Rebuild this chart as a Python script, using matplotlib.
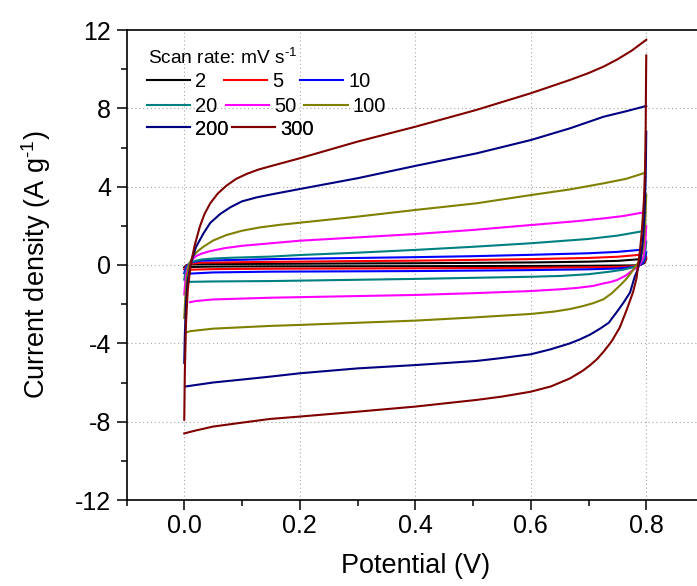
import numpy as np
import matplotlib
matplotlib.use("Agg")
import matplotlib.pyplot as plt
from matplotlib.ticker import MultipleLocator

plt.rcParams['font.family'] = ['Liberation Sans', 'DejaVu Sans']
plt.rcParams['mathtext.fontset'] = 'custom'
plt.rcParams['mathtext.rm'] = 'Liberation Sans'
plt.rcParams['mathtext.it'] = 'Liberation Sans:italic'
plt.rcParams['mathtext.default'] = 'regular'
plt.rcParams['axes.unicode_minus'] = False

# ---- cyclic voltammograms: forward (anodic) and reverse (cathodic) sweeps ----
scan_rates = [2, 5, 10, 20, 50, 100, 200, 300]          # mV/s
line_colors = ['#000000', '#ff0000', '#0000ff', '#008080',
               '#ff00ff', '#808000', '#000080', '#800000']

fwd_E_2 = [0.0, 0.003, 0.01, 0.05, 0.15, 0.3, 0.4, 0.5, 0.6, 0.7, 0.75, 0.786]
fwd_j_2 = [-0.12, -0.02, 0.03, 0.05, 0.06, 0.08, 0.09, 0.11, 0.13, 0.17, 0.21, 0.29]
rev_E_2 = [0.8, 0.797, 0.79, 0.78, 0.7, 0.6, 0.4, 0.15, 0.05, 0.01, 0.003]
rev_j_2 = [0.3, 0.1, 0.02, -0.02, -0.04, -0.05, -0.06, -0.07, -0.08, -0.1, -0.12]

fwd_E_5 = [0.0, 0.003, 0.01, 0.03, 0.15, 0.3, 0.4, 0.5, 0.6, 0.7, 0.75, 0.789]
fwd_j_5 = [-0.22, -0.05, 0.06, 0.12, 0.16, 0.2, 0.22, 0.26, 0.3, 0.36, 0.42, 0.52]
rev_E_5 = [0.8, 0.797, 0.79, 0.78, 0.75, 0.7, 0.6, 0.4, 0.15, 0.05, 0.01, 0.003]
rev_j_5 = [0.4, 0.15, 0.02, -0.06, -0.1, -0.12, -0.14, -0.17, -0.19, -0.21, -0.24, -0.26]

fwd_E_10 = [0.0, 0.003, 0.01, 0.03, 0.15, 0.3, 0.4, 0.5, 0.6, 0.7, 0.75, 0.792]
fwd_j_10 = [-0.42, -0.1, 0.12, 0.22, 0.3, 0.36, 0.4, 0.45, 0.52, 0.6, 0.67, 0.78]
rev_E_10 = [0.8, 0.798, 0.794, 0.788, 0.78, 0.75, 0.7, 0.6, 0.4, 0.15, 0.05, 0.01, 0.003]
rev_j_10 = [0.65, 0.3, 0.08, -0.02, -0.1, -0.18, -0.22, -0.26, -0.31, -0.34, -0.38, -0.44, -0.48]

fwd_E_20 = [0.0, 0.002, 0.005, 0.01, 0.02, 0.03, 0.05, 0.08, 0.15, 0.2, 0.3, 0.4, 0.5, 0.6, 0.7, 0.75, 0.789]
fwd_j_20 = [-0.75, -0.4, -0.1, 0.12, 0.22, 0.28, 0.33, 0.37, 0.43, 0.51, 0.63, 0.77, 0.93, 1.11, 1.33, 1.5, 1.70]
rev_E_20 = [0.8, 0.798, 0.795, 0.79, 0.785, 0.78, 0.77, 0.76, 0.737, 0.7, 0.651, 0.6, 0.4, 0.15, 0.05, 0.01]
rev_j_20 = [1.2, 0.6, 0.25, 0.06, -0.03, -0.09, -0.17, -0.24, -0.34, -0.47, -0.56, -0.6, -0.71, -0.82, -0.84, -0.86]

fwd_E_50 = [0.0, 0.002, 0.004, 0.008, 0.014, 0.02, 0.03, 0.045, 0.07, 0.1, 0.15, 0.2, 0.3, 0.4, 0.5,
            0.6, 0.68, 0.726, 0.76, 0.792]
fwd_j_50 = [-1.5, -0.8, -0.4, 0.0, 0.28, 0.45, 0.58, 0.71, 0.86, 0.98, 1.11, 1.24, 1.41, 1.58, 1.79,
            2.04, 2.24, 2.38, 2.5, 2.67]
rev_E_50 = [0.8, 0.798, 0.795, 0.79, 0.786, 0.78, 0.775, 0.766, 0.758, 0.749, 0.738, 0.726, 0.708,
            0.68, 0.651, 0.6, 0.5, 0.4, 0.15, 0.05, 0.02, 0.01]
rev_j_50 = [2.0, 1.0, 0.4, 0.08, -0.09, -0.2, -0.3, -0.51, -0.64, -0.77, -0.87, -0.94, -1.07,
            -1.17, -1.24, -1.33, -1.44, -1.53, -1.67, -1.76, -1.84, -1.9]

fwd_E_100 = [0.0, 0.002, 0.004, 0.008, 0.015, 0.024, 0.033, 0.05, 0.073, 0.1, 0.131, 0.165, 0.2, 0.3,
             0.4, 0.506, 0.6, 0.668, 0.726, 0.765, 0.795]
fwd_j_100 = [-2.7, -1.6, -0.8, 0.0, 0.45, 0.72, 0.93, 1.25, 1.53, 1.75, 1.92, 2.05, 2.16, 2.47,
             2.81, 3.15, 3.57, 3.86, 4.17, 4.4, 4.68]
rev_E_100 = [0.8, 0.798, 0.795, 0.79, 0.783, 0.773, 0.764, 0.754, 0.74, 0.726, 0.708, 0.69, 0.668,
             0.64, 0.6, 0.5, 0.4, 0.2, 0.149, 0.05, 0.01, 0.004]
rev_j_100 = [3.6, 2.0, 0.9, 0.25, 0.0, -0.43, -0.76, -1.06, -1.45, -1.75, -1.95, -2.1, -2.25,
             -2.38, -2.5, -2.68, -2.84, -3.06, -3.11, -3.25, -3.38, -3.44]

fwd_E_200 = [0.0, 0.001, 0.003, 0.006, 0.011, 0.02, 0.033, 0.045, 0.062, 0.08, 0.1, 0.125, 0.15,
             0.2, 0.3, 0.4, 0.506, 0.6, 0.668, 0.726, 0.765, 0.8]
fwd_j_200 = [-5.0, -3.6, -2.0, -0.8, 0.0, 0.9, 1.6, 2.15, 2.6, 2.95, 3.25, 3.45, 3.6,
             3.88, 4.43, 5.06, 5.70, 6.38, 6.98, 7.57, 7.85, 8.12]
rev_E_200 = [0.8, 0.799, 0.797, 0.794, 0.79, 0.785, 0.78, 0.772, 0.76, 0.749, 0.735, 0.72, 0.703,
             0.685, 0.668, 0.635, 0.6, 0.55, 0.506, 0.4, 0.3, 0.2, 0.149, 0.1, 0.05, 0.003]
rev_j_200 = [6.8, 4.5, 2.6, 1.2, 0.3, -0.25, -0.6, -1.4, -1.95, -2.4, -2.95, -3.25, -3.55,
             -3.8, -4.0, -4.3, -4.56, -4.75, -4.9, -5.11, -5.28, -5.53, -5.70, -5.85, -6.0, -6.2]

fwd_E_300 = [0.0, 0.001, 0.003, 0.006, 0.011, 0.018, 0.027, 0.035, 0.045, 0.058, 0.073, 0.09, 0.108,
             0.128, 0.15, 0.2, 0.3, 0.4, 0.506, 0.6, 0.668, 0.7, 0.726, 0.75, 0.775, 0.8]
fwd_j_300 = [-7.9, -5.5, -3.0, -1.3, 0.0, 1.0, 1.96, 2.6, 3.15, 3.65, 4.05, 4.4, 4.65,
             4.87, 5.05, 5.45, 6.30, 7.06, 7.92, 8.77, 9.45, 9.8, 10.13, 10.5, 10.95, 11.5]
rev_E_300 = [0.8, 0.7995, 0.799, 0.798, 0.796, 0.792, 0.789, 0.786, 0.783, 0.777, 0.766, 0.754, 0.74,
             0.726, 0.715, 0.703, 0.69, 0.668, 0.635, 0.6, 0.55, 0.506, 0.4, 0.3, 0.2, 0.149, 0.1,
             0.05, 0.02, 0.0]
rev_j_300 = [10.7, 9.0, 7.0, 5.0, 3.3, 1.6, 0.7, 0.0, -0.7, -1.4, -2.3, -3.2, -3.9,
             -4.43, -4.8, -5.11, -5.4, -5.79, -6.2, -6.47, -6.72, -6.89, -7.23, -7.49, -7.74, -7.86, -8.05,
             -8.25, -8.45, -8.6]

sweeps = {
    2: (fwd_E_2, fwd_j_2, rev_E_2, rev_j_2),
    5: (fwd_E_5, fwd_j_5, rev_E_5, rev_j_5),
    10: (fwd_E_10, fwd_j_10, rev_E_10, rev_j_10),
    20: (fwd_E_20, fwd_j_20, rev_E_20, rev_j_20),
    50: (fwd_E_50, fwd_j_50, rev_E_50, rev_j_50),
    100: (fwd_E_100, fwd_j_100, rev_E_100, rev_j_100),
    200: (fwd_E_200, fwd_j_200, rev_E_200, rev_j_200),
    300: (fwd_E_300, fwd_j_300, rev_E_300, rev_j_300),
}

x_ticks = [0.0, 0.2, 0.4, 0.6, 0.8]
y_ticks = [-12, -8, -4, 0, 4, 8, 12]

# ---- figure ----
W, H = 697, 586
fig = plt.figure(figsize=(W / 100, H / 100), dpi=100)
# the right border of the frame runs just past the edge of the canvas
ax = fig.add_axes([126.5 / W, 86 / H, 577.5 / W, 470 / H])

handles = {}
for rate, color in zip(scan_rates, line_colors):
    fE, fj, rE, rj = sweeps[rate]
    h, = ax.plot(fE, fj, color=color, lw=1.5, solid_joinstyle='round')
    ax.plot(rE, rj, color=color, lw=1.5, solid_joinstyle='round')
    handles[rate] = h

ax.set_xlim(-0.1, 0.9)
ax.set_ylim(-12, 12)
ax.set_xticks(x_ticks)
ax.set_yticks(y_ticks)
ax.xaxis.set_minor_locator(MultipleLocator(0.1))
ax.yaxis.set_minor_locator(MultipleLocator(2))
ax.set_xticklabels([f"{v:.1f}" for v in x_ticks])
ax.set_yticklabels([str(v) for v in y_ticks])

ax.tick_params(which='major', direction='out', length=7.5, width=1.1,
               labelsize=18, top=False, right=False)
ax.tick_params(axis='x', which='major', pad=2.5)
ax.tick_params(axis='y', which='major', pad=3.5)
ax.tick_params(which='minor', direction='out', length=4, width=1.1, top=False, right=False)
for s in ax.spines.values():
    s.set_linewidth(1.2)

for v in x_ticks:
    ax.axvline(v, color='#a8a8a8', lw=0.8, ls=(0, (1, 2.5)), zorder=0)
for v in [-8, -4, 0, 4, 8]:
    ax.axhline(v, color='#a8a8a8', lw=0.8, ls=(0, (1, 2.5)), zorder=0)

ax.set_xlabel('Potential (V)', fontsize=19.5, labelpad=11)
ax.set_ylabel(r'Current density (A g$^{\text{-1}}$)', fontsize=19.5, labelpad=16)

# ---- legend: title line plus three rows of entries ----
fig.text(148 / W, 1 - 58 / H, r'Scan rate: mV s$^{\text{-1}}$', fontsize=13.8,
         ha='left', va='center')
rows = [([2, 5, 10], 81.7, 0.85), ([20, 50, 100], 106.7, 0.4), ([200, 300], 129, 0.15)]
for rates, ypix, spacing in rows:
    leg = ax.legend([handles[r] for r in rates], [str(r) for r in rates],
                    ncol=len(rates), loc='center left',
                    bbox_to_anchor=(147 / W, 1 - ypix / H),
                    bbox_transform=fig.transFigure, frameon=False,
                    fontsize=14.5, handlelength=2.15, handletextpad=0.25,
                    columnspacing=spacing, borderpad=0, borderaxespad=0)
    ax.add_artist(leg)

fig.savefig('out.png', dpi=100)
